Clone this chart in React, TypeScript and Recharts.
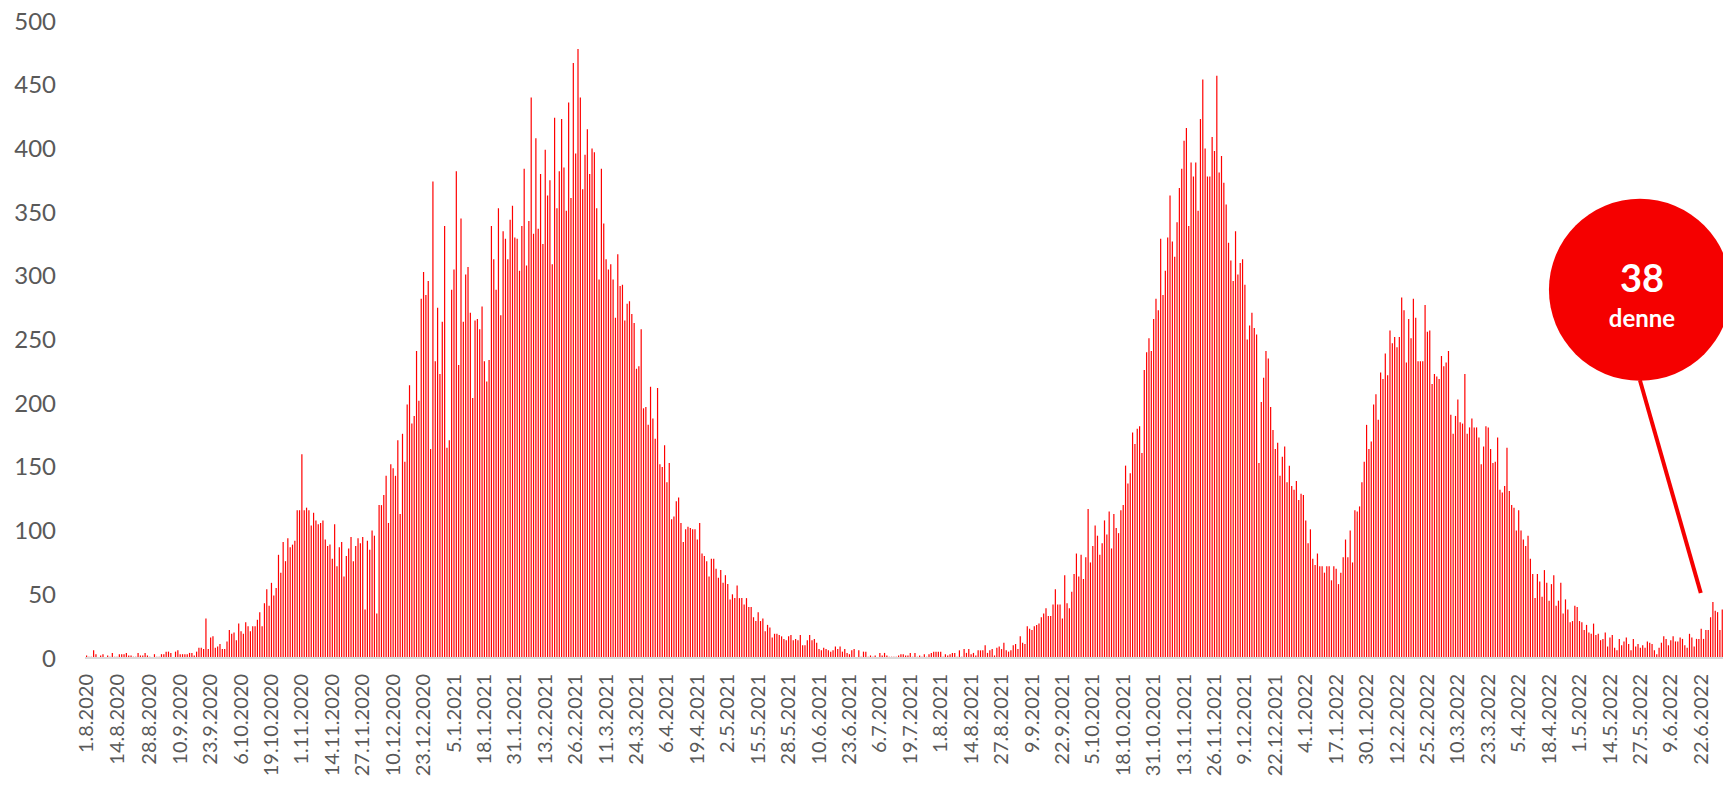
import React from 'react';
import { BarChart, Bar, XAxis, YAxis, ReferenceDot, ReferenceLine } from 'recharts';

// Daily new cases, one value per day from 1.8.2020
const aug2020ToOct2020 = [
  2, 1, 1, 6, 3, 0, 2, 3, 0, 2, 1, 4, 1, 1, 3, 3, 3, 4, 2, 2,
  1, 1, 4, 2, 2, 4, 2, 1, 0, 3, 1, 1, 3, 3, 5, 5, 4, 0, 5, 6,
  3, 3, 3, 3, 4, 4, 2, 5, 8, 8, 7, 31, 7, 16, 17, 8, 9, 11, 7, 7,
  13, 22, 19, 20, 14, 27, 21, 19, 28, 25, 21, 25, 25, 30, 36, 25, 43, 54, 41, 59,
  49, 55, 81, 67, 91, 76, 94, 87, 89, 92, 116, 116,
];
const nov2020ToJan2021 = [
  160, 116, 118, 116, 104, 114, 108, 105, 106, 108,
  93, 88, 89, 78, 105, 72, 87, 91, 64, 80,
  86, 95, 76, 88, 94, 90, 95, 38, 92, 85,
  100, 96, 35, 120, 120, 128, 143, 106, 152, 149,
  143, 171, 113, 176, 154, 199, 214, 184, 190, 241,
  202, 282, 303, 285, 296, 164, 374, 233, 275, 223,
  264, 339, 165, 171, 289, 305, 382, 230, 345, 264,
  301, 307, 271,
];
const jan2021ToMar2021 = [
  204, 265, 266, 258, 276, 233, 217, 234, 339, 313,
  289, 353, 269, 335, 329, 313, 344, 355, 330, 329,
  304, 339, 384, 308, 343, 440, 333, 408, 337, 380,
  325, 399, 363, 375, 309, 424, 353, 382, 423, 385,
  351, 436, 361, 467, 396, 478, 440, 368, 395, 415,
  380, 400, 397, 353, 297, 384, 341, 313, 305, 309,
  297, 267, 317, 292, 293, 265, 278, 280, 270, 263,
  227, 229,
];
const mar2021ToJun2021 = [
  258, 196, 197, 183, 213, 188, 172, 212, 152, 150,
  167, 138, 153, 109, 111, 123, 126, 106, 91, 101,
  103, 102, 101, 101, 93, 106, 82, 80, 76, 64,
  78, 78, 70, 63, 69, 59, 65, 58, 46, 50,
  47, 57, 47, 47, 42, 47, 40, 40, 32, 29,
  36, 29, 31, 21, 26, 24, 16, 19, 19, 18,
  17, 15, 14, 17, 18, 14, 15, 14, 18, 10,
  10,
];
const jun2021ToSep2021 = [
  14, 18, 14, 15, 12, 7, 6, 8, 7, 6,
  5, 6, 9, 7, 9, 5, 7, 4, 3, 6,
  7, 0, 6, 1, 5, 5, 1, 2, 1, 2,
  0, 4, 2, 4, 2, 1, 1, 1, 1, 2,
  3, 3, 2, 2, 4, 1, 4, 1, 2, 1,
  3, 1, 3, 4, 5, 5, 5, 5, 1, 3,
  2, 3, 4, 4, 1, 6, 1, 7, 4, 7,
  3, 4, 2, 6, 6, 6, 10, 4, 6, 7,
  2, 8, 9, 7, 12, 6, 5, 6, 10, 11,
  7, 17, 12, 11, 25, 23, 22, 25, 26, 27,
  32, 35,
];
const sep2021ToNov2021 = [
  39, 33, 33, 42, 54, 42, 42, 31, 65, 43,
  39, 52, 66, 82, 64, 81, 62, 79, 117, 75,
  88, 104, 96, 81, 90, 108, 97, 115, 86, 113,
  102, 98, 116, 120, 151, 137, 145, 177, 168, 180,
  182, 161, 226, 240, 251, 241, 266, 282, 273, 329,
  285, 304, 330, 363, 327, 315, 342, 369, 384, 406,
  416, 339, 389, 378, 389, 351, 423,
];
const nov2021ToJan2022 = [
  454, 400, 378, 378, 409, 398, 457, 381, 394, 373,
  356, 326, 312, 296, 335, 301, 310, 313, 293, 250,
  261, 271, 259, 254, 153, 201, 220, 241, 235, 197,
  179, 164, 169, 143, 158, 166, 138, 151, 135, 132,
  139, 124, 129, 128, 108, 90, 101, 78, 73, 82,
  72, 72, 67, 72, 72, 61, 72, 70, 58, 67,
  79, 93,
];
const jan2022ToApr2022 = [
  79, 100, 75, 116, 115, 119, 138, 154, 183, 164,
  170, 199, 207, 187, 224, 219, 239, 222, 257, 247,
  252, 244, 252, 283, 273, 232, 266, 251, 282, 267,
  233, 233, 233, 277, 256, 257, 215, 223, 221, 219,
  237, 229, 232, 241, 191, 176, 190, 203, 185, 184,
  223, 176, 181, 188, 181, 181, 173, 152, 166, 182,
  181, 164, 153, 154, 173, 132,
];
const apr2022ToJul2022 = [
  130, 135, 165, 131, 120, 118, 100, 116, 100, 93,
  88, 96, 78, 66, 47, 66, 60, 48, 69, 59,
  45, 58, 65, 41, 45, 59, 35, 46, 38, 28,
  29, 41, 40, 29, 28, 22, 26, 20, 19, 27,
  18, 19, 14, 15, 20, 9, 16, 18, 8, 6,
  15, 10, 13, 16, 11, 6, 15, 9, 11, 8,
  10, 8, 13, 12, 11, 6, 3, 8, 12, 17,
  15, 10, 14, 17, 13, 13, 16, 15, 10, 8,
  19, 16, 9, 15, 15, 23, 15, 22, 22, 32,
  44, 37, 36, 22, 38,
];

const dailyCases = [
  ...aug2020ToOct2020,
  ...nov2020ToJan2021,
  ...jan2021ToMar2021,
  ...mar2021ToJun2021,
  ...jun2021ToSep2021,
  ...sep2021ToNov2021,
  ...nov2021ToJan2022,
  ...jan2022ToApr2022,
  ...apr2022ToJul2022,
];

const tickLabels = [
  '1.8.2020', '14.8.2020', '28.8.2020', '10.9.2020', '23.9.2020', '6.10.2020',
  '19.10.2020', '1.11.2020', '14.11.2020', '27.11.2020', '10.12.2020', '23.12.2020',
  '5.1.2021', '18.1.2021', '31.1.2021', '13.2.2021', '26.2.2021', '11.3.2021',
  '24.3.2021', '6.4.2021', '19.4.2021', '2.5.2021', '15.5.2021', '28.5.2021',
  '10.6.2021', '23.6.2021', '6.7.2021', '19.7.2021', '1.8.2021', '14.8.2021',
  '27.8.2021', '9.9.2021', '22.9.2021', '5.10.2021', '18.10.2021', '31.10.2021',
  '13.11.2021', '26.11.2021', '9.12.2021', '22.12.2021', '4.1.2022', '17.1.2022',
  '30.1.2022', '12.2.2022', '25.2.2022', '10.3.2022', '23.3.2022', '5.4.2022',
  '18.4.2022', '1.5.2022', '14.5.2022', '27.5.2022', '9.6.2022', '22.6.2022',
];

const yTicks = [0, 50, 100, 150, 200, 250, 300, 350, 400, 450, 500];

const todayCount = 38;
const todayText = 'denne';

// one category per day, same format as the tick labels
const startDay = Date.UTC(2020, 7, 1);
const dayLabels = dailyCases.map((_, i) => {
  const d = new Date(startDay + i * 86400000);
  return `${d.getUTCDate()}.${d.getUTCMonth() + 1}.${d.getUTCFullYear()}`;
});

const data = dailyCases.map((v, i) => ({ day: dayLabels[i], cases: v }));

const RED = '#ff0000';
const BUBBLE_RED = '#f50000';
const FONT = 'Lato, "Open Sans", sans-serif';

const DateTick = ({ x, y, payload }: any) => {
  const ty = y + 16;
  return (
    <text
      x={x}
      y={ty}
      transform={`rotate(-90, ${x}, ${ty})`}
      textAnchor="end"
      dy="0.35em"
      fill="#595959"
      fontSize={20}
      fontFamily={FONT}
    >
      {payload.value}
    </text>
  );
};

const Bubble = ({ cx, cy, r }: any) => (
  <g>
    <circle cx={cx} cy={cy} r={r} fill={BUBBLE_RED} />
    <text x={cx + 2} y={cy + 2} textAnchor="middle" fill="#fff" fontSize={38} fontWeight={700} fontFamily={FONT}>
      {todayCount}
    </text>
    <text x={cx + 2} y={cy + 37} textAnchor="middle" fill="#fff" fontSize={24} fontWeight={700} fontFamily={FONT}>
      {todayText}
    </text>
  </g>
);

export default function App() {
  return (
    <div style={{ width: 1723, height: 785, overflow: 'hidden', background: '#fff' }}>
      <style>{'html,body{margin:0;padding:0;overflow:hidden;background:#fff}'}</style>
      <BarChart
        width={1723}
        height={785}
        data={data}
        margin={{ top: 21, right: 0, bottom: 0, left: 0 }}
      >
        <XAxis
          dataKey="day"
          ticks={tickLabels}
          interval={0}
          height={127}
          tick={<DateTick />}
          tickLine={false}
          tickSize={0}
          tickMargin={0}
          axisLine={{ stroke: '#d9d9d9', strokeWidth: 2 }}
        />
        <YAxis
          domain={[0, 500]}
          ticks={yTicks}
          width={85}
          axisLine={false}
          tickLine={false}
          tickSize={0}
          tickMargin={29}
          tick={{ fill: '#595959', fontSize: 24, fontFamily: FONT }}
        />
        <Bar dataKey="cases" fill={RED} barSize={1.2} isAnimationActive={false} />
        <ReferenceLine
          segment={[{ x: dayLabels[664], y: 218 }, { x: dayLabels[690], y: 51 }]}
          stroke={BUBBLE_RED}
          strokeWidth={4}
          ifOverflow="visible"
        />
        <ReferenceDot x={dayLabels[664]} y={289} r={91} shape={<Bubble />} ifOverflow="visible" />
      </BarChart>
    </div>
  );
}
